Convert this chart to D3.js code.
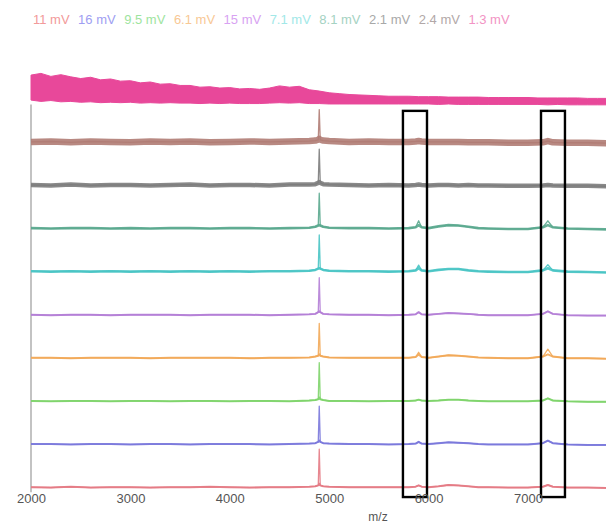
<!DOCTYPE html>
<html><head><meta charset="utf-8">
<script src="https://cdn.jsdelivr.net/npm/d3@7"></script>
<style>html,body{margin:0;padding:0;background:#fff;}svg{display:block;}</style>
</head><body>
<svg id="chart" width="606" height="524"></svg>
<script>
// ---------- data ----------
const seriesNames = ["11 mV","16 mV","9.5 mV","6.1 mV","15 mV","7.1 mV","8.1 mV","2.1 mV","2.4 mV","1.3 mV"];
const xTicks = [2000,3000,4000,5000,6000,7000];
const mzGrid = [2000,2200,2400,2600,2800,3000,3200,3400,3600,3800,4000,4200,4400,4600,4800,4860,4890,4900,4910,4940,5000,5200,5400,5600,5800,5870,5900,5930,6000,6100,6200,6300,6400,6500,6600,6800,7000,7150,7200,7250,7400,7600,7800];
// intensities (arbitrary units, 1 = lane height) on mzGrid
const s11  = [0.02,0.01,0.03,0.01,0.02,0.02,0.01,0.02,0.02,0.03,0.02,0.01,0.02,0.02,0.03,0.04,0.06,0.90,0.06,0.04,0.03,0.02,0.02,0.02,0.02,0.03,0.06,0.03,0.02,0.04,0.07,0.06,0.04,0.02,0.02,0.01,0.01,0.03,0.07,0.03,0.01,0.01,0.00];
const s16  = [0.02,0.02,0.01,0.02,0.02,0.01,0.02,0.02,0.01,0.02,0.02,0.02,0.01,0.02,0.03,0.04,0.07,0.90,0.07,0.04,0.03,0.02,0.02,0.01,0.02,0.03,0.07,0.03,0.02,0.04,0.06,0.05,0.04,0.02,0.01,0.01,0.01,0.04,0.10,0.04,0.01,0.00,0.00];
const s95  = [0.02,0.01,0.02,0.02,0.01,0.02,0.02,0.01,0.02,0.02,0.01,0.02,0.02,0.01,0.03,0.04,0.06,0.91,0.06,0.04,0.02,0.02,0.01,0.02,0.02,0.03,0.05,0.03,0.02,0.03,0.05,0.05,0.03,0.02,0.01,0.01,0.01,0.03,0.08,0.03,0.01,0.00,0.00];
const s61  = [0.02,0.02,0.01,0.02,0.02,0.02,0.01,0.02,0.02,0.02,0.02,0.01,0.02,0.02,0.03,0.05,0.07,0.82,0.07,0.05,0.03,0.02,0.02,0.02,0.02,0.04,0.15,0.04,0.02,0.05,0.08,0.07,0.05,0.03,0.02,0.01,0.01,0.05,0.22,0.05,0.01,0.01,0.00];
const s15  = [0.02,0.01,0.02,0.02,0.01,0.02,0.02,0.02,0.01,0.02,0.02,0.02,0.01,0.02,0.03,0.04,0.08,0.88,0.08,0.04,0.03,0.02,0.02,0.01,0.02,0.03,0.08,0.03,0.02,0.04,0.06,0.05,0.04,0.02,0.01,0.01,0.01,0.04,0.10,0.04,0.01,0.00,0.00];
const s71  = [0.03,0.02,0.03,0.02,0.03,0.02,0.03,0.02,0.03,0.02,0.03,0.02,0.03,0.03,0.04,0.06,0.09,0.87,0.09,0.06,0.04,0.03,0.03,0.02,0.03,0.05,0.17,0.05,0.03,0.06,0.08,0.08,0.05,0.03,0.02,0.01,0.01,0.05,0.18,0.05,0.02,0.01,0.00];
const s81  = [0.03,0.02,0.03,0.03,0.02,0.03,0.02,0.03,0.03,0.02,0.03,0.03,0.02,0.03,0.04,0.06,0.09,0.84,0.09,0.06,0.04,0.03,0.03,0.02,0.03,0.05,0.20,0.05,0.03,0.07,0.10,0.09,0.06,0.03,0.02,0.01,0.01,0.05,0.20,0.05,0.02,0.01,0.00];
const s21  = [0.03,0.02,0.04,0.02,0.03,0.03,0.02,0.03,0.04,0.02,0.03,0.03,0.02,0.04,0.04,0.05,0.08,0.86,0.08,0.05,0.04,0.03,0.02,0.03,0.02,0.03,0.04,0.03,0.02,0.03,0.03,0.02,0.03,0.02,0.02,0.01,0.01,0.02,0.03,0.02,0.01,0.01,0.00];
const s24  = [0.03,0.04,0.02,0.04,0.03,0.02,0.04,0.03,0.04,0.02,0.03,0.04,0.03,0.04,0.05,0.06,0.08,0.78,0.08,0.06,0.05,0.03,0.04,0.03,0.03,0.04,0.05,0.04,0.03,0.03,0.03,0.03,0.02,0.02,0.02,0.01,0.01,0.02,0.05,0.02,0.01,0.01,0.00];
const pinkMz = [2000,2100,2200,2300,2400,2500,2600,2700,2800,2900,3000,3100,3200,3300,3400,3500,3600,3700,3800,3900,4000,4100,4200,4300,4400,4500,4600,4700,4800,4900,5000,5100,5200,5300,5400,5500,5600,5700,5800,5900,6000,6100,6200,6300,6400,6500,6600,6700,6800,6900,7000,7100,7200,7300,7400,7500,7600,7700,7800];
const pinkHi = [0.58,0.62,0.55,0.59,0.54,0.50,0.53,0.47,0.49,0.44,0.45,0.40,0.42,0.37,0.38,0.34,0.34,0.30,0.31,0.28,0.29,0.26,0.27,0.25,0.28,0.33,0.30,0.32,0.24,0.21,0.17,0.15,0.13,0.12,0.11,0.10,0.09,0.09,0.09,0.08,0.08,0.08,0.07,0.07,0.07,0.07,0.06,0.06,0.06,0.06,0.06,0.05,0.05,0.05,0.05,0.05,0.04,0.04,0.04];
const pinkLo = [0.00,-0.03,-0.01,-0.04,-0.03,-0.05,-0.04,-0.06,-0.05,-0.06,-0.05,-0.07,-0.06,-0.07,-0.06,-0.07,-0.07,-0.08,-0.07,-0.08,-0.07,-0.08,-0.08,-0.08,-0.07,-0.06,-0.07,-0.06,-0.08,-0.08,-0.09,-0.09,-0.09,-0.09,-0.09,-0.09,-0.09,-0.09,-0.09,-0.09,-0.09,-0.10,-0.09,-0.10,-0.10,-0.10,-0.10,-0.10,-0.10,-0.10,-0.10,-0.10,-0.11,-0.10,-0.11,-0.11,-0.11,-0.11,-0.11];
const boxMzStart = [5742,7131];
const boxMzEnd = [5984,7372];

// ---------- styles ----------
const lineColors = ["#e47a84","#7a78dc","#7ed46a","#f2a858","#b47ed6","#48c4c4","#5aa88e","#7c7c7c","#b07c74","#e8489a"];
const legendColors = ["#f29a9a","#9e9ef2","#9ee49e","#f8c894","#d8a2f2","#a2e8e8","#a4d2c2","#a8a8a8","#b2a8a8","#f294c4"];
const bandWidths = [2,2,2,2,2,2.6,2.6,4.5,6.5];

const svg = d3.select("#chart");
const x = d3.scaleLinear().domain([2000,7800]).range([31,607.5]);
const y = d3.scaleLinear().domain([0,10]).range([488,57]);

const series = [s11,s16,s95,s61,s15,s71,s81,s21,s24];

// y axis line
svg.append("line").attr("x1",x(2000)).attr("x2",x(2000))
  .attr("y1",y(-0.1)).attr("y2",y(8.9))
  .attr("stroke","#b4b4b4").attr("stroke-width",1.6);

// spectra: noise band (thick, spike capped) + thin trace with full peaks
series.forEach((vals,i)=>{
  const band = d3.line().x((d,k)=>x(mzGrid[k])).y(d=>y(i+Math.min(d,0.1)));
  svg.append("path").datum(vals).attr("d",band)
    .attr("fill","none").attr("stroke",lineColors[i])
    .attr("stroke-width",bandWidths[i]).attr("stroke-linejoin","round")
    .attr("opacity",0.9);
  const line = d3.line().x((d,k)=>x(mzGrid[k])).y(d=>y(i+d));
  svg.append("path").datum(vals).attr("d",line)
    .attr("fill","none").attr("stroke",lineColors[i])
    .attr("stroke-width",1.3).attr("stroke-linejoin","round")
    .attr("opacity",0.9);
});

// pink noisy band
const area = d3.area().x((d,k)=>x(pinkMz[k])).y0((d,k)=>y(9+pinkLo[k])).y1(d=>y(9+d));
svg.append("path").datum(pinkHi).attr("d",area)
  .attr("fill",lineColors[9]).attr("stroke",lineColors[9]).attr("stroke-width",1);

// boxes
boxMzStart.forEach((m,i)=>{
  svg.append("rect").attr("x",x(m)).attr("y",y(8.75))
    .attr("width",x(boxMzEnd[i])-x(m)).attr("height",y(-0.21)-y(8.75))
    .attr("fill","none").attr("stroke","#000").attr("stroke-width",2.4);
});

// x axis tick labels
const xAxis = d3.axisBottom(x).tickValues(xTicks).tickFormat(d3.format("d")).tickSize(0).tickPadding(0);
const gx = svg.append("g").attr("transform","translate(0,493)").call(xAxis);
gx.select(".domain").remove();
gx.selectAll("text").attr("font-family","Liberation Sans, Arial, sans-serif")
  .attr("font-size",13).attr("fill","#555").attr("dy","0.75em");

svg.append("text").attr("x",378).attr("y",521).attr("text-anchor","middle")
  .attr("font-family","Liberation Sans, Arial, sans-serif").attr("font-size",12)
  .attr("fill","#555").text("m/z");

// legend
let lx = 33;
seriesNames.forEach((n,i)=>{
  const t = svg.append("text").attr("x",lx).attr("y",24)
    .attr("font-family","Liberation Sans, Arial, sans-serif").attr("font-size",13)
    .attr("fill",legendColors[i]).text(n);
  lx += t.node().getComputedTextLength() + 8.5;
});
</script>
</body></html>
